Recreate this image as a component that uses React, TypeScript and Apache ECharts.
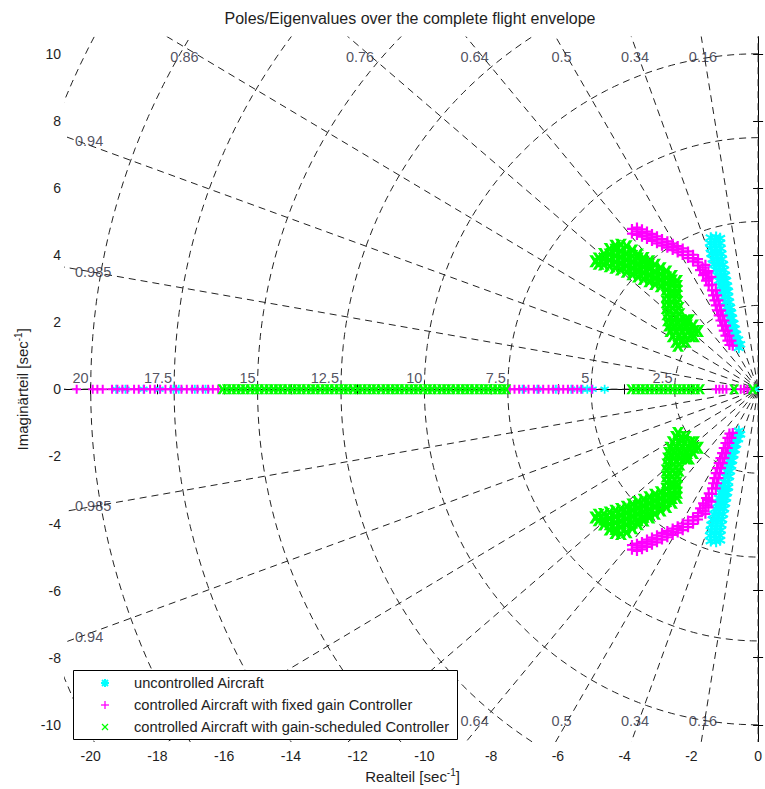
import React, { useEffect, useRef } from "react";
import * as echarts from "echarts";

const FONT = "'Liberation Sans', Arial, Helvetica, sans-serif";
const TEXT_COLOR = "#1e1e1e";

const chartTitle = "Poles/Eigenvalues over the complete flight envelope";
const seriesNames = [
  "uncontrolled Aircraft",
  "controlled Aircraft with fixed gain Controller",
  "controlled Aircraft with gain-scheduled Controller",
];
const seriesColors = ["#00ffff", "#ff00ff", "#00ff00"];

const xTicks = [-20, -18, -16, -14, -12, -10, -8, -6, -4, -2, 0];
const yTicks = [-10, -8, -6, -4, -2, 0, 2, 4, 6, 8, 10];
const X_MIN = -20.77;
const X_MAX = 0.06;
const Y_MIN = -10.5;
const Y_MAX = 10.5;

// s-plane grid: damping ratios and natural frequencies [1/s]
const dampingRatios = [0.16, 0.34, 0.5, 0.64, 0.76, 0.86, 0.94, 0.985];
const freqLabels = [2.5, 5, 7.5, 10, 12.5, 15, 17.5, 20];
const freqCircles = [2.5, 5, 7.5, 10, 12.5, 15, 17.5, 20, 22.5];

// Poles of the uncontrolled aircraft: complex poles (upper half plane) and real poles
const uncontrolledUpper = [
  [-1.42, 4.52], [-1.26, 4.54], [-1.14, 4.5],
  [-1.44, 4.36], [-1.29, 4.36], [-1.14, 4.36],
  [-1.42, 4.2], [-1.27, 4.2], [-1.12, 4.2],
  [-1.4, 4.04], [-1.25, 4.04], [-1.1, 4.04],
  [-1.36, 3.88], [-1.22, 3.88], [-1.08, 3.88],
  [-1.32, 3.72], [-1.18, 3.72], [-1.05, 3.72],
  [-1.27, 3.56], [-1.14, 3.56], [-1.02, 3.56],
  [-1.22, 3.4], [-1.1, 3.4], [-0.99, 3.4],
  [-1.17, 3.24], [-1.06, 3.24], [-0.96, 3.24],
  [-1.13, 3.08], [-1.02, 3.08], [-0.93, 3.08],
  [-1.09, 2.92], [-0.99, 2.92], [-0.9, 2.92],
  [-1.01, 2.76], [-0.9, 2.76],
  [-0.98, 2.6], [-0.87, 2.6],
  [-0.95, 2.44], [-0.84, 2.44],
  [-0.91, 2.28], [-0.81, 2.28],
  [-0.87, 2.12], [-0.78, 2.12],
  [-0.83, 1.96], [-0.74, 1.96],
  [-0.79, 1.8], [-0.7, 1.8],
  [-0.74, 1.64], [-0.66, 1.64],
  [-0.7, 1.48], [-0.6, 1.48],
  [-0.64, 1.34], [-0.54, 1.34],
  [-0.58, 1.24],
];
const uncontrolledReal = [
  -19.24, -18.96, -18.42, -17.94, -17.52, -17.36, -16.88, -16.56,
  -7.06, -6.62, -6.06, -5.6, -5.26, -5.12, -4.96, -4.6, -0.08,
];

// Poles with the fixed gain controller
const fixedGainUpper = [
  [-3.78, 4.64], [-3.78, 4.78],
  [-3.63, 4.6], [-3.63, 4.71], [-3.63, 4.82],
  [-3.48, 4.55], [-3.48, 4.66], [-3.48, 4.77],
  [-3.33, 4.48], [-3.33, 4.59], [-3.33, 4.7],
  [-3.18, 4.42], [-3.18, 4.53], [-3.18, 4.63],
  [-3.03, 4.35], [-3.03, 4.46], [-3.03, 4.56],
  [-2.88, 4.28], [-2.88, 4.38], [-2.88, 4.48],
  [-2.72, 4.22], [-2.72, 4.31], [-2.72, 4.41],
  [-2.56, 4.15], [-2.56, 4.24], [-2.56, 4.34],
  [-2.41, 4.08], [-2.41, 4.17], [-2.41, 4.27],
  [-2.26, 4.0], [-2.26, 4.1], [-2.26, 4.2],
  [-2.1, 3.91], [-2.1, 4.01], [-2.1, 4.11],
  [-1.95, 3.81], [-1.95, 3.91], [-1.95, 4.01],
  [-1.8, 3.69], [-1.8, 3.78], [-1.8, 3.88],
  [-1.74, 3.55], [-1.66, 3.63], [-1.58, 3.71],
  [-1.65, 3.4], [-1.57, 3.46], [-1.49, 3.52],
  [-1.56, 3.24], [-1.48, 3.3], [-1.4, 3.35],
  [-1.48, 3.1], [-1.38, 3.12],
  [-1.38, 2.95], [-1.27, 2.95],
  [-1.35, 2.8], [-1.23, 2.8],
  [-1.31, 2.65], [-1.19, 2.65],
  [-1.27, 2.5], [-1.15, 2.5],
  [-1.23, 2.35], [-1.11, 2.35],
  [-1.18, 2.2], [-1.06, 2.2],
  [-1.13, 2.05], [-1.01, 2.05],
  [-1.08, 1.9], [-0.96, 1.9],
  [-1.03, 1.75], [-0.91, 1.75],
  [-0.98, 1.6], [-0.86, 1.6],
  [-0.92, 1.45], [-0.8, 1.45],
  [-0.86, 1.32], [-0.76, 1.3],
];
const fixedGainReal = [
  -20.42, -19.94, -19.8, -19.64, -19.36, -19.2, -19.05, -18.9,
  -18.7, -18.56, -18.4, -18.22, -18.08, -17.92, -17.76, -17.6,
  -17.44, -17.28, -17.12, -16.96, -16.8, -16.64, -16.48, -16.34, -16.18,
  -7.44, -7.3, -7.16, -7.02, -6.88, -6.72, -6.58, -6.44, -6.28, -6.14,
  -5.98, -5.84, -5.7, -5.56, -5.42, -5.3, -4.98,
  -1.26, -1.16, -1.06, -0.95, -0.52, -0.42, -0.32,
];

// Poles with the gain-scheduled controller
const scheduledUpper = [
  [-4.88, 3.82], [-4.78, 3.74], [-4.78, 3.9],
  [-4.62, 3.72], [-4.62, 3.88], [-4.62, 4.03],
  [-4.45, 3.67], [-4.45, 3.85], [-4.45, 4.02], [-4.45, 4.18],
  [-4.28, 3.62], [-4.28, 3.8], [-4.28, 3.98], [-4.28, 4.16], [-4.28, 4.28],
  [-4.11, 3.57], [-4.11, 3.75], [-4.11, 3.93], [-4.11, 4.11], [-4.11, 4.31],
  [-3.94, 3.5], [-3.94, 3.68], [-3.94, 3.86], [-3.94, 4.04], [-3.94, 4.26],
  [-3.77, 3.43], [-3.77, 3.61], [-3.77, 3.79], [-3.77, 3.97], [-3.77, 4.14],
  [-3.6, 3.36], [-3.6, 3.54], [-3.6, 3.72], [-3.6, 3.9], [-3.6, 4.02],
  [-3.43, 3.29], [-3.43, 3.47], [-3.43, 3.65], [-3.43, 3.8], [-3.43, 3.91],
  [-3.26, 3.22], [-3.26, 3.4], [-3.26, 3.58], [-3.26, 3.72], [-3.26, 3.82],
  [-3.09, 3.14], [-3.09, 3.32], [-3.09, 3.5], [-3.09, 3.71],
  [-2.92, 3.07], [-2.92, 3.25], [-2.92, 3.43], [-2.92, 3.61],
  [-2.75, 2.97], [-2.75, 3.15], [-2.75, 3.33], [-2.75, 3.51],
  [-2.58, 2.92], [-2.58, 3.1], [-2.58, 3.24], [-2.58, 3.38],
  [-2.43, 2.92], [-2.43, 3.08], [-2.43, 3.23],
  [-2.74, 2.78], [-2.58, 2.78], [-2.44, 2.78],
  [-2.74, 2.6], [-2.58, 2.6], [-2.42, 2.6],
  [-2.74, 2.42], [-2.56, 2.42], [-2.38, 2.42],
  [-2.72, 2.24], [-2.54, 2.24], [-2.36, 2.24],
  [-2.7, 2.06], [-2.52, 2.06], [-2.34, 2.06], [-2.16, 2.06], [-2.07, 2.06],
  [-2.67, 1.9], [-2.49, 1.9], [-2.31, 1.9], [-2.13, 1.9], [-1.95, 1.9],
  [-2.63, 1.74], [-2.45, 1.74], [-2.27, 1.74], [-2.09, 1.74], [-1.91, 1.74], [-1.8, 1.74],
  [-2.56, 1.58], [-2.38, 1.58], [-2.2, 1.58], [-2.02, 1.58], [-1.92, 1.58],
  [-2.46, 1.42], [-2.3, 1.42], [-2.17, 1.42],
  [-2.4, 1.3],
];
const scheduledReal = [
  -16.05, -15.92, -15.78, -15.64, -15.5, -15.37, -15.22, -15.08, -14.95, -14.8,
  -14.66, -14.52, -14.38, -14.25, -14.1, -13.96, -13.82, -13.69, -13.54, -13.4,
  -13.27, -13.12, -12.98, -12.85, -12.7, -12.56, -12.42, -12.29, -12.14, -12.0,
  -11.86, -11.72, -11.58, -11.45, -11.3, -11.16, -11.02, -10.88, -10.75, -10.6,
  -10.46, -10.32, -10.19, -10.04, -9.9, -9.77, -9.62, -9.48, -9.34, -9.21,
  -9.06, -8.92, -8.78, -8.65, -8.5, -8.36, -8.22, -8.09, -7.95, -7.81, -7.67, -7.55,
  -3.8, -3.66, -3.52, -3.39, -3.25, -3.11, -2.97, -2.84, -2.7, -2.56,
  -2.42, -2.29, -2.15, -2.01, -1.88, -1.74, -0.72, -0.16,
];

// marker shapes (filled outlines so that dense clouds read as solid bands)
const STAR_PATH =
  "path://M4.1,0L5.9,0L5.9,10L4.1,10Z M8.83,8.36L0.17,3.36L1.07,1.64L9.73,6.64Z M0.17,6.64L8.83,1.64L9.73,3.36L1.07,8.36Z";
const PLUS_PATH = "path://M3.9,0H6.1V3.9H10V6.1H6.1V10H3.9V6.1H0V3.9H3.9Z";
const CROSS_PATH =
  "path://M0,0L3,0L5,3.2L7,0L10,0L6.7,5L10,10L7,10L5,6.8L3,10L0,10L3.3,5Z";

// right edge of the legend box in data units; border labels under it stay hidden
const LEGEND_RIGHT_X = -9.1;

type Pt = number[];
const withConjugates = (upper: Pt[], real: number[], cloudSize: number, axisSize: number) => [
  ...upper.map((p) => ({ value: p, symbolSize: cloudSize })),
  ...upper.map(([x, y]) => ({ value: [x, -y], symbolSize: cloudSize })),
  ...real.map((x) => ({ value: [x, 0], symbolSize: axisSize })),
];

function buildOption() {
  const gridStyle = { color: "#222", width: 1, type: [7, 5] as number[] };
  const gridLine = (data: Pt[]) => ({
    type: "line",
    data,
    symbol: "none",
    silent: true,
    clip: true,
    z: 1,
    lineStyle: gridStyle,
  });

  const RAY = 40;
  const rays = [...dampingRatios, 1].map((z) => {
    const wd = Math.sqrt(1 - z * z);
    return gridLine([
      [-RAY * z, RAY * wd],
      [0, 0],
      [-RAY * z, -RAY * wd],
    ]);
  });
  rays.push(gridLine([[0, RAY], [0, -RAY]]));

  const circles = freqCircles.map((wn) => {
    const pts: Pt[] = [];
    for (let a = 90; a <= 270; a += 1.5) {
      const r = (a * Math.PI) / 180;
      pts.push([wn * Math.cos(r), wn * Math.sin(r)]);
    }
    return gridLine(pts);
  });

  // grid annotations: damping ratio at the plot border, natural frequency on the real axis
  const labelData: any[] = [];
  dampingRatios.forEach((z) => {
    const wd = Math.sqrt(1 - z * z);
    const xTop = (-Y_MAX * z) / wd;
    const txt = String(z);
    if (xTop > X_MIN) {
      const xl = (-(Y_MAX - 0.3) * z) / wd;
      labelData.push({
        name: txt,
        value: [xl, Y_MAX - 0.6],
        label: { align: "center", verticalAlign: "middle" },
      });
      if (xl > LEGEND_RIGHT_X) {
        labelData.push({
          name: txt,
          value: [xl, -(Y_MAX - 0.6)],
          label: { align: "center", verticalAlign: "middle" },
        });
      }
    } else {
      const yl = (-X_MIN * wd) / z - 0.15;
      [1, -1].forEach((s) =>
        labelData.push({
          name: txt,
          value: [X_MIN + 0.3, s * yl],
          label: { align: "left", verticalAlign: "middle" },
        })
      );
    }
  });
  freqLabels.forEach((wn) =>
    labelData.push({
      name: String(wn),
      value: [-wn - 0.06, 0.1],
      label: { align: "right", verticalAlign: "bottom" },
    })
  );

  const labelSeries = {
    type: "scatter",
    data: labelData,
    symbolSize: 1,
    silent: true,
    z: 2,
    itemStyle: { color: "rgba(0,0,0,0)" },
    label: {
      show: true,
      position: "inside",
      formatter: (p: any) => p.name,
      fontSize: 14.5,
      fontFamily: FONT,
      color: "#262638",
    },
  };

  const symbols = [STAR_PATH, PLUS_PATH, CROSS_PATH];
  const dataSets = [
    withConjugates(uncontrolledUpper, uncontrolledReal, 11, 9),
    withConjugates(fixedGainUpper, fixedGainReal, 10, 9),
    withConjugates(scheduledUpper, scheduledReal, 12, 10),
  ];
  const poleSeries = dataSets.map((d, i) => ({
    type: "scatter",
    name: seriesNames[i],
    data: d,
    symbol: symbols[i],
    silent: true,
    z: 3,
    itemStyle: { color: seriesColors[i], opacity: 1 },
  }));

  const tickLabel = { fontSize: 14, fontFamily: FONT, color: TEXT_COLOR };
  const axisLine = { show: true, lineStyle: { color: "#000", width: 1 } };
  const tick = (vals: number[]) => ({
    show: true,
    inside: true,
    length: 5,
    customValues: vals,
    lineStyle: { color: "#000", width: 1 },
  });
  const nameRich = {
    a: { fontSize: 15, fontFamily: FONT, color: TEXT_COLOR, lineHeight: 18 },
    b: { fontSize: 10, fontFamily: FONT, color: TEXT_COLOR, lineHeight: 18, verticalAlign: "top" },
  };

  const markerLines = (cx: number, cy: number, kind: number, color: string) => {
    const segs: number[][] = [];
    if (kind === 0 || kind === 1) {
      segs.push([cx - 4, cy, cx + 4, cy], [cx, cy - 4, cx, cy + 4]);
    }
    if (kind === 0 || kind === 2) {
      segs.push([cx - 3, cy - 3, cx + 3, cy + 3], [cx + 3, cy - 3, cx - 3, cy + 3]);
    }
    return segs.map((s) => ({
      type: "line",
      z: 101,
      shape: { x1: s[0], y1: s[1], x2: s[2], y2: s[3] },
      style: { stroke: color, lineWidth: kind === 0 ? 2 : 1.3 },
    }));
  };
  const legendRows = [683, 705, 727];
  const overlay: any[] = [
    {
      type: "text",
      z: 101,
      x: 410,
      y: 18,
      style: {
        text: chartTitle,
        fontSize: 16,
        fontFamily: FONT,
        fill: TEXT_COLOR,
        align: "center",
        verticalAlign: "middle",
      },
    },
    {
      type: "rect",
      z: 100,
      shape: { x: 73.5, y: 670.5, width: 384, height: 69 },
      style: { fill: "#fff", stroke: "#000", lineWidth: 1 },
    },
  ];
  seriesNames.forEach((n, i) => {
    overlay.push(...markerLines(105, legendRows[i], i, seriesColors[i]));
    overlay.push({
      type: "text",
      z: 101,
      x: 134,
      y: legendRows[i],
      style: {
        text: n,
        fontSize: 14.7,
        fontFamily: FONT,
        fill: TEXT_COLOR,
        align: "left",
        verticalAlign: "middle",
      },
    });
  });

  return {
    animation: false,
    backgroundColor: "#fff",
    grid: { left: 65, right: 0, top: 37, bottom: 43 },
    xAxis: [
      {
        type: "value",
        min: X_MIN,
        max: X_MAX,
        position: "bottom",
        axisLine,
        axisTick: tick(xTicks),
        axisLabel: { ...tickLabel, margin: 7, customValues: xTicks },
        splitLine: { show: false },
        name: "{a|Realteil [sec}{b|-1}{a|]}",
        nameLocation: "middle",
        nameGap: 23,
        nameTextStyle: { rich: nameRich },
      },
      {
        type: "value",
        min: X_MIN,
        max: X_MAX,
        position: "top",
        axisLine,
        axisTick: tick(xTicks),
        axisLabel: { show: false },
        splitLine: { show: false },
      },
    ],
    yAxis: [
      {
        type: "value",
        min: Y_MIN,
        max: Y_MAX,
        position: "left",
        axisLine,
        axisTick: tick(yTicks),
        axisLabel: { ...tickLabel, margin: 4, customValues: yTicks },
        splitLine: { show: false },
        name: "{a|Imaginärteil [sec}{b|-1}{a|]}",
        nameLocation: "middle",
        nameRotate: 90,
        nameGap: 34,
        nameTextStyle: { rich: nameRich },
      },
      {
        type: "value",
        min: Y_MIN,
        max: Y_MAX,
        position: "right",
        axisLine,
        axisTick: tick(yTicks),
        axisLabel: { show: false },
        splitLine: { show: false },
      },
    ],
    series: [...rays, ...circles, labelSeries, ...poleSeries],
    graphic: overlay,
  };
}

export default function App() {
  const ref = useRef<HTMLDivElement>(null);
  useEffect(() => {
    if (!ref.current) return;
    const chart = echarts.init(ref.current, undefined, { renderer: "svg" });
    chart.setOption(buildOption() as any);
    return () => chart.dispose();
  }, []);
  return (
    <div
      ref={ref}
      style={{ position: "fixed", left: 0, top: 0, width: 765, height: 789, background: "#fff" }}
    />
  );
}
